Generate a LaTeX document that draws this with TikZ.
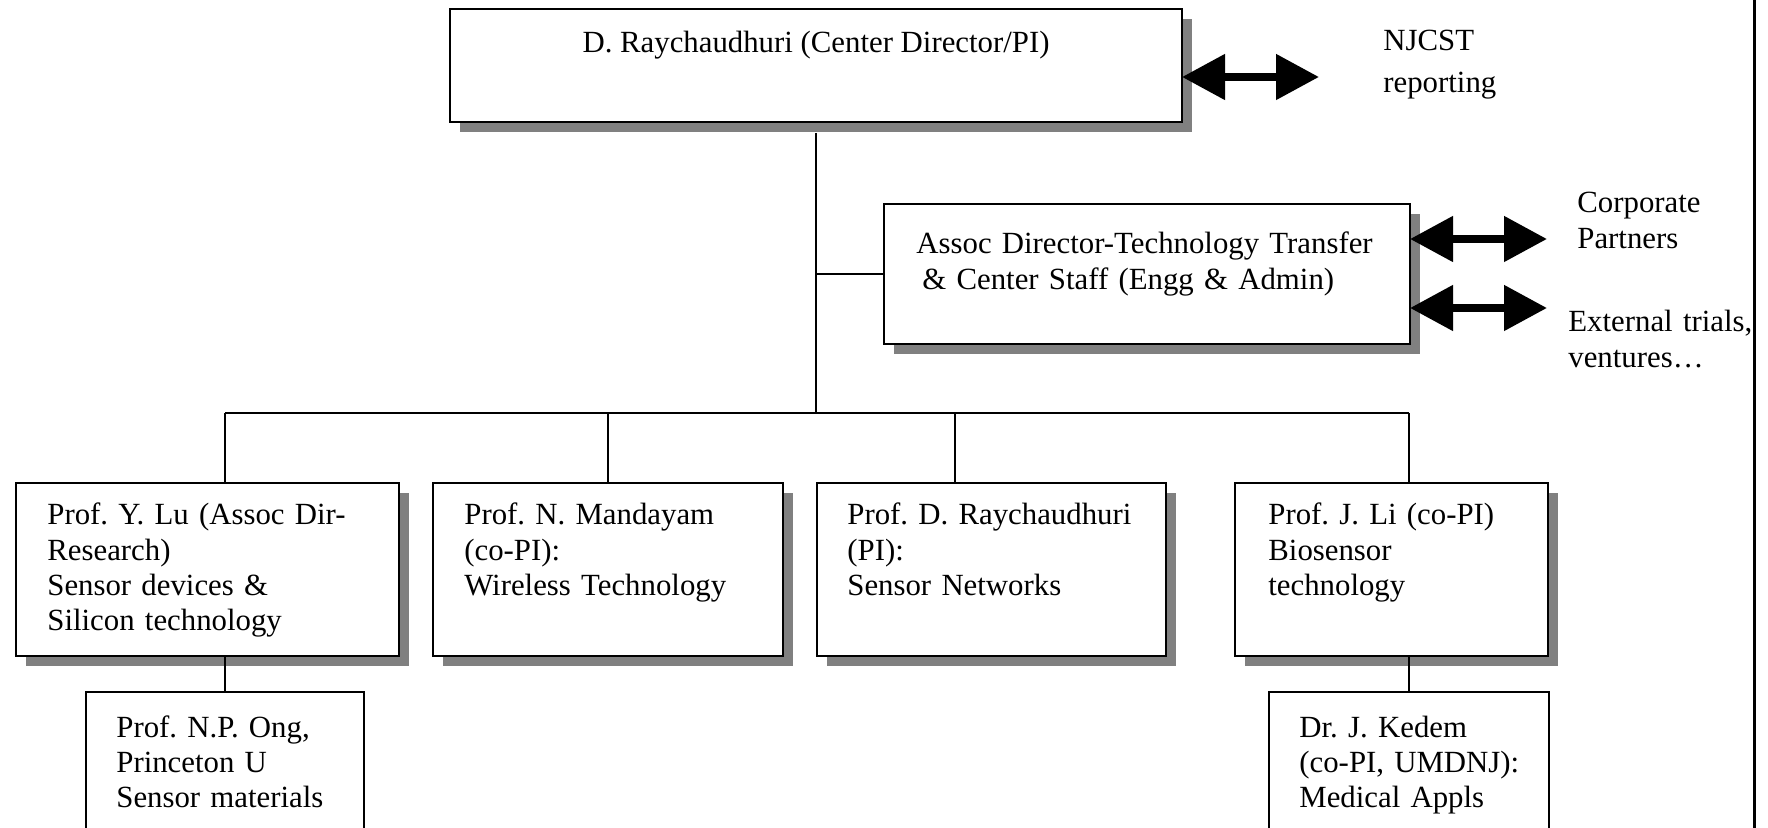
\documentclass[tikz,border=0pt]{standalone}
\usepackage{fontspec}
\setmainfont{Liberation Serif}
\usetikzlibrary{arrows.meta,shadows}
\definecolor{shadowgray}{RGB}{128,128,128}
\frenchspacing
\tikzset{
  unitbox/.style={draw, line width=1.4pt, fill=white, rectangle, anchor=north west,
    inner sep=0pt, outer sep=0pt,
    drop shadow={shadow xshift=5pt, shadow yshift=-5pt, fill=shadowgray, opacity=1}},
  subbox/.style={draw, line width=1.2pt, fill=white, rectangle, anchor=north west,
    inner sep=0pt, outer sep=0pt},
  lbl/.style={anchor=base west, inner sep=0pt, align=left, text width=250pt,
    font=\fontsize{15.4}{17.6}\selectfont\frenchspacing},
  wire/.style={line width=1.1pt},
  twoway/.style={line width=4pt,
    {Triangle[length=21.5pt,width=22pt]}-{Triangle[length=21.5pt,width=22pt]}},
}
\begin{document}
\begin{tikzpicture}[x=0.5pt,y=-0.5pt]
\useasboundingbox (0,0) rectangle (1768,828);

% boxes
\node[unitbox, minimum width=366pt, minimum height=56.5pt] (top) at (450,9) {};
\node[unitbox, minimum width=263pt, minimum height=70pt] (assoc) at (884,204) {};
\node[unitbox, minimum width=191.5pt, minimum height=86.5pt] (b1) at (16,483) {};
\node[unitbox, minimum width=175pt, minimum height=86.5pt] (b2) at (433,483) {};
\node[unitbox, minimum width=174.5pt, minimum height=86.5pt] (b3) at (817,483) {};
\node[unitbox, minimum width=156.5pt, minimum height=86.5pt] (b4) at (1235,483) {};
\node[subbox, minimum width=139pt, minimum height=85pt] (s1) at (86,692) {};
\node[subbox, minimum width=140pt, minimum height=85pt] (s2) at (1269,692) {};

% texts
\node[anchor=base, inner sep=0pt, font=\fontsize{15.4}{17.6}\selectfont\frenchspacing] (toptxt) at (816,53) {D. Raychaudhuri (Center Director/PI)};
\node[lbl] (atxt) at (916,254) {Assoc Director-Technology Transfer\\\hspace*{3pt}\& Center Staff (Engg \& Admin)};
\node[lbl] (b1txt) at (47,525) {Prof. Y. Lu (Assoc Dir-\\Research)\\Sensor devices \&\\Silicon technology};
\node[lbl] (b2txt) at (464,525) {Prof. N. Mandayam\\(co-PI):\\Wireless Technology};
\node[lbl] (b3txt) at (847,525) {Prof. D. Raychaudhuri\\(PI):\\Sensor Networks};
\node[lbl] (b4txt) at (1268,525) {Prof. J. Li (co-PI)\\Biosensor\\technology};
\node[lbl] (s1txt) at (116,737) {Prof. N.P. Ong,\\Princeton U\\Sensor materials};
\node[lbl] (s2txt) at (1299,737) {Dr. J. Kedem\\(co-PI, UMDNJ):\\Medical Appls};
\node[lbl] (njc) at (1383,51) {NJCST\\[3pt]reporting};
\node[lbl] (corp) at (1577,213) {Corporate\\Partners};
\node[lbl] (ext) at (1568,332) {External trials,\\ventures…};

% connectors
\coordinate (busT) at (top.south |- 0,413);
\coordinate (trA) at (top.south |- assoc.west);
\coordinate (bL) at (225,413);
\coordinate (bR) at (1409,413);
\coordinate (bC) at (955,413);
\draw[wire] ([yshift=-5.5pt]top.south) -- (busT);
\draw[wire] (trA) -- (assoc.west);
\draw[wire] (bL) -- (bR);
\draw[wire] (bL) -- (bL |- b1.north);
\draw[wire] (b2.north |- bL) -- (b2.north);
\draw[wire] (bC) -- (bC |- b3.north);
\draw[wire] (bR) -- (bR |- b4.north);
\draw[wire] (bL |- b1.south) -- (bL |- s1.north);
\draw[wire] (bR |- b4.south) -- (bR |- s2.north);

% double arrows
\coordinate (njcE) at (1319,77);
\coordinate (corpE) at (1547,239);
\coordinate (extE) at (1547,308);
\draw[twoway] (top.east |- njcE) -- (njcE);
\draw[twoway] (assoc.east |- corpE) -- (corpE);
\draw[twoway] (assoc.east |- extE) -- (extE);

% right border line
\coordinate (rt) at (1754,0);
\coordinate (rb) at (1754,828);
\draw[line width=1.5pt] (rt) -- (rb);
\end{tikzpicture}
\end{document}
